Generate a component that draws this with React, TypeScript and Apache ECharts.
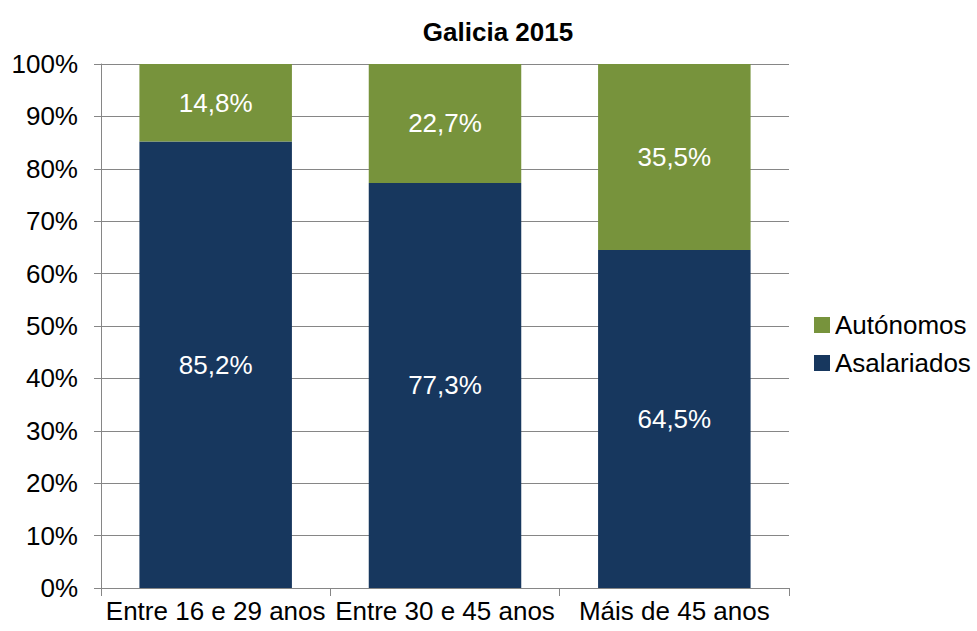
import React, { useEffect, useRef } from "react";
import * as echarts from "echarts";

const categories = ["Entre 16 e 29 anos", "Entre 30 e 45 anos", "Máis de 45 anos"];
const asalariados = [85.2, 77.3, 64.5];
const autonomos = [14.8, 22.7, 35.5];
const fmt = (v: number) => v.toFixed(1).replace(".", ",") + "%";

export default function App() {
  const ref = useRef<HTMLDivElement>(null);
  useEffect(() => {
    const chart = echarts.init(ref.current!, null, { renderer: "svg" });
    const font = "'Liberation Sans', Arial, sans-serif";
    const fs = 26;
    chart.setOption({
      animation: false,
      textStyle: { fontFamily: font },
      title: {
        text: "Galicia 2015",
        left: 493,
        textAlign: "center",
        top: 14,
        textStyle: { fontFamily: font, fontSize: fs, fontWeight: "bold", color: "#000" },
      },
      legend: {
        orient: "vertical",
        left: 809,
        top: 307,
        itemWidth: 16,
        itemHeight: 16,
        itemGap: 12,
        icon: "rect",
        data: ["Autónomos", "Asalariados"],
        textStyle: { fontFamily: font, fontSize: fs, color: "#000" },
      },
      grid: { left: 101, right: 188, top: 64, bottom: 43, containLabel: false },
      xAxis: {
        type: "category",
        data: categories,
        axisLine: { lineStyle: { color: "#868686" } },
        axisTick: { show: true, length: 8, lineStyle: { color: "#868686" } },
        axisLabel: { color: "#000", fontSize: fs, fontFamily: font, margin: 10, interval: 0 },
      },
      yAxis: {
        type: "value",
        min: 0,
        max: 100,
        interval: 10,
        axisLine: { show: true, lineStyle: { color: "#868686" } },
        axisTick: { show: true, length: 7, lineStyle: { color: "#868686" } },
        splitLine: { lineStyle: { color: "#868686" } },
        axisLabel: { color: "#000", fontSize: fs, fontFamily: font, margin: 23, formatter: (v: number) => v + "%" },
      },
      series: [
        {
          name: "Asalariados",
          type: "bar",
          stack: "s",
          barWidth: "66.5%",
          data: asalariados,
          itemStyle: { color: "#17375E" },
          label: { show: true, position: "inside", color: "#fff", fontSize: fs, fontFamily: font, formatter: (p: any) => fmt(p.value) },
        },
        {
          name: "Autónomos",
          type: "bar",
          stack: "s",
          barWidth: "66.5%",
          data: autonomos,
          itemStyle: { color: "#77933C" },
          label: { show: true, position: "inside", color: "#fff", fontSize: fs, fontFamily: font, formatter: (p: any) => fmt(p.value) },
        },
      ],
    });
    return () => chart.dispose();
  }, []);
  return <div ref={ref} style={{ width: 977, height: 631, position: "absolute", left: 0, top: 0 }} />;
}
